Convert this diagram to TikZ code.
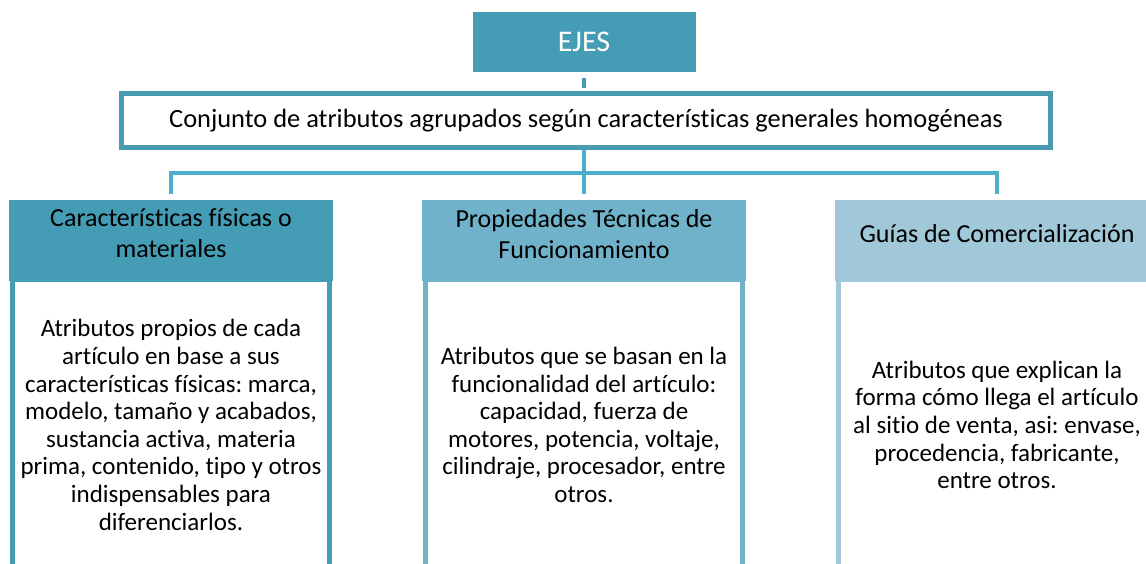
\documentclass[tikz,border=0pt]{standalone}
\usepackage{fontspec}
\setmainfont{Carlito}[Ligatures=NoCommon]
\frenchspacing
\usetikzlibrary{calc}
\definecolor{axisdark}{HTML}{459CB5}
\definecolor{axismid}{HTML}{70B2C9}
\definecolor{axislight}{HTML}{A0C8D9}
\definecolor{linkblue}{HTML}{4EADC8}
\definecolor{framblue}{HTML}{4A9BB2}

\begin{document}
\begin{tikzpicture}[
     x=1pt,y=-1pt,
     hdr/.style={rectangle,minimum width=324pt,minimum height=81pt,inner sep=0pt,
       align=center,text depth=14pt,font=\fontsize{26}{31}\selectfont},
     body/.style={rectangle,draw=#1,line width=5pt,minimum width=317pt,
       minimum height=292pt,inner sep=0pt,align=center,font=\fontsize{25}{27.6}\selectfont},
     link/.style={line width=4.5pt,linkblue}
   ]
   \useasboundingbox (0,0) rectangle (1146,564);
   % Top boxes.
   \node[fill=axisdark,minimum width=223pt,minimum height=60pt,text=white,
     font=\fontsize{30}{34}\selectfont] (ejes) at (584,42) {EJES};
   \draw[line width=4pt,axisdark,shorten <=6pt] (ejes.south) -- ++(0,16) coordinate (top);
   \node[draw=framblue,fill=white,line width=5pt,minimum width=929pt,minimum height=54pt,
     font=\fontsize{26.4}{30}\selectfont] (conj) at (586,120.5)
     {Conjunto de atributos agrupados según características generales homogéneas};
   % Fork.
   \coordinate (fork) at ($(conj.south)+(-2,23)$);
   \draw[link] (conj.south -| fork) -- (fork);
   % Bodies.
   \node[body=axisdark] (b1) at (171,425) {Atributos propios de cada\\artículo en base a sus\\características físicas: marca,\\modelo, tamaño y acabados,\\sustancia activa, materia\\prima, contenido, tipo y otros\\indispensables para\\diferenciarlos.};
   \node[body=axismid] (b2) at (584,425) {Atributos que se basan en la\\funcionalidad del artículo:\\capacidad, fuerza de\\motores, potencia, voltaje,\\cilindraje, procesador, entre\\otros.};
   \node[body=axislight] (b3) at (997,425) {Atributos que explican la\\forma cómo llega el artículo\\al sitio de venta, asi: envase,\\procedencia, fabricante,\\entre otros.};
   % Headers.
   \node[hdr,fill=axisdark] (h1) at (171,240.5) {Características físicas o\\materiales};
   \node[hdr,fill=axismid] (h2) at (584,240.5) {Propiedades Técnicas de\\Funcionamiento};
   \node[hdr,fill=axislight] (h3) at (997,240.5) {Guías de Comercialización};
   \draw[link,shorten >=6pt] (fork) -| (h1.north);
   \draw[link,shorten >=6pt] (fork) -- (h2.north);
   \draw[link,shorten >=6pt] (fork) -| (h3.north);
 \end{tikzpicture}
\end{document}
